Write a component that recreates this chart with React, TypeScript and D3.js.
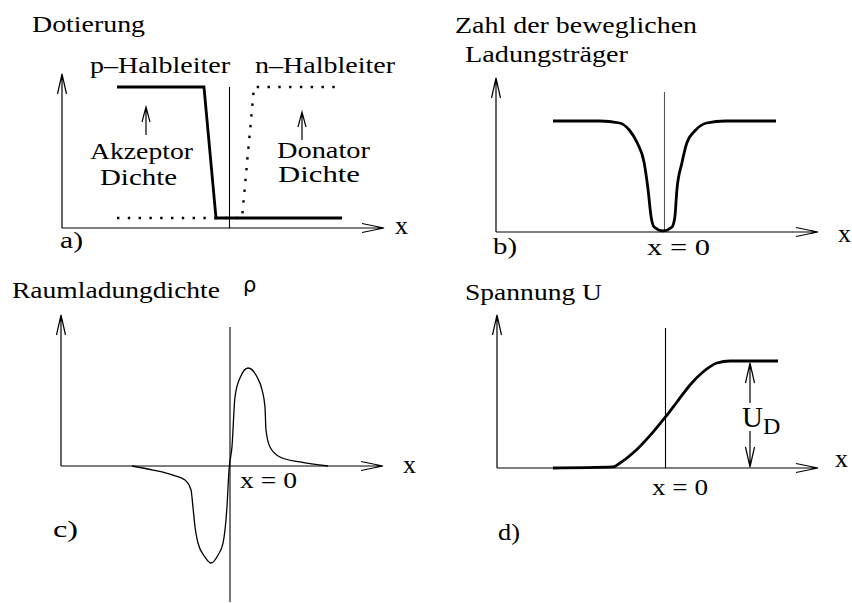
import React from "react";
import * as d3 from "d3";

const W = 852;
const H = 603;
const SERIF = "Liberation Serif, Times New Roman, Times, DejaVu Serif, serif";

// a) Dotierung: acceptor (solid) and donor (dotted) profiles, x in [-1, 1], y in [0, 1]
const acceptorX = [-1, -0.227, -0.12, 1];
const acceptorY = [1, 1, 0.071, 0.071];
const donorX = [-1, 0.111, 0.218, 0.982];
const donorY = [0.071, 0.071, 1, 1];

// b) Zahl der beweglichen Ladungsträger
const carrierX = [-1, -0.582, -0.404, -0.316, -0.244, -0.182, -0.147, -0.12, -0.093, -0.013, 0.067, 0.093, 0.111, 0.156, 0.2, 0.28, 0.378, 0.547, 1];
const carrierY = [1, 1, 0.982, 0.919, 0.802, 0.622, 0.378, 0.135, 0.045, 0.01, 0.045, 0.135, 0.378, 0.622, 0.802, 0.919, 0.982, 1, 1];

// c) Raumladungdichte rho, y in [-1, 1]
const chargeX = [-1, -0.786, -0.582, -0.459, -0.398, -0.378, -0.357, -0.327, -0.255, -0.194, -0.122, -0.071, -0.031, -0.01, 0.02, 0.051, 0.102, 0.184, 0.276, 0.327, 0.357, 0.367, 0.408, 0.51, 0.714, 1];
const chargeY = [0, -0.041, -0.092, -0.143, -0.245, -0.418, -0.622, -0.786, -0.929, -0.99, -0.908, -0.786, -0.418, -0.041, 0.194, 0.704, 0.898, 1, 0.908, 0.776, 0.602, 0.367, 0.194, 0.092, 0.041, 0];

// d) Spannung U
const voltageX = [-1, -0.467, -0.404, -0.289, -0.111, 0, 0.102, 0.218, 0.333, 0.458, 0.573, 1];
const voltageY = [0, 0.01, 0.047, 0.14, 0.336, 0.477, 0.617, 0.776, 0.897, 0.981, 1, 1];

type Frame = {
  left: number; axisY: number; top: number; right: number;
  x0: number; x1: number; yLo: number; yHi: number; yMin: number;
  zeroTop: number; zeroBottom: number;
};

const frames: Record<string, Frame> = {
  a: { left: 62, axisY: 228, top: 74, right: 384, x0: 117, x1: 342, yLo: 228, yHi: 87, yMin: 0, zeroTop: 87, zeroBottom: 228 },
  b: { left: 496, axisY: 232, top: 78, right: 818, x0: 553, x1: 776, yLo: 232, yHi: 121, yMin: 0, zeroTop: 92, zeroBottom: 232 },
  c: { left: 61, axisY: 466, top: 315, right: 383, x0: 132, x1: 328, yLo: 564, yHi: 368, yMin: -1, zeroTop: 327, zeroBottom: 602 },
  d: { left: 497, axisY: 468, top: 315, right: 818, x0: 553, x1: 778, yLo: 468, yHi: 361, yMin: 0, zeroTop: 328, zeroBottom: 468 },
};

const scalesFor = (f: Frame) => ({
  x: d3.scaleLinear().domain([-1, 1]).range([f.x0, f.x1]),
  y: d3.scaleLinear().domain([f.yMin, 1]).range([f.yLo, f.yHi]),
});

const arrowPath = (x1: number, y1: number, x2: number, y2: number, len = 20, half = 4.5) => {
  const dx = x2 - x1, dy = y2 - y1;
  const l = Math.hypot(dx, dy);
  const ux = dx / l, uy = dy / l;
  const bx = x2 - ux * len, by = y2 - uy * len;
  return `M${x1},${y1}L${x2},${y2}M${bx - uy * half},${by + ux * half}L${x2},${y2}L${bx + uy * half},${by - ux * half}`;
};

const Arrow = ({ x1, y1, x2, y2, len, half, w = 1.2, color = "#000" }: any) => (
  <path d={arrowPath(x1, y1, x2, y2, len, half)} fill="none" stroke={color} strokeWidth={w} />
);

const Label = ({ x, y, size = 24, width, children, family = SERIF }: any) => (
  <text x={x} y={y} fill="#000" style={{ fontFamily: family, fontSize: size }}
    textLength={width} lengthAdjust={width ? "spacingAndGlyphs" : undefined}>
    {children}
  </text>
);

const curve = (xs: number[], ys: number[], f: Frame, kind: any) => {
  const s = scalesFor(f);
  const pts = xs.map((x, i) => [x, ys[i]] as [number, number]);
  return d3.line<[number, number]>().x((d) => s.x(d[0])).y((d) => s.y(d[1])).curve(kind)(pts) || "";
};

const Axes = ({ f, zeroColor = "#000" }: { f: Frame; zeroColor?: string }) => {
  const s = scalesFor(f);
  const zx = s.x(0);
  return (
    <g>
      <Arrow x1={f.left} y1={f.axisY} x2={f.left} y2={f.top} />
      <Arrow x1={f.left} y1={f.axisY} x2={f.right} y2={f.axisY} len={22} />
      <line x1={zx} x2={zx} y1={f.zeroTop} y2={f.zeroBottom} stroke={zeroColor} strokeWidth={1.1} />
    </g>
  );
};

export default function App() {
  const { a, b, c, d } = frames;
  return (
    <svg width={W} height={H} style={{ position: "absolute", left: 0, top: 0, background: "#fff" }}>
      {/* a) */}
      <Label x={32} y={32} width={113}>Dotierung</Label>
      <Label x={90} y={73} width={140}>p–Halbleiter</Label>
      <Label x={255} y={73} width={140}>n–Halbleiter</Label>
      <Axes f={a} />
      <path d={curve(acceptorX, acceptorY, a, d3.curveLinear)} fill="none" stroke="#000" strokeWidth={2.8} />
      <path d={curve(donorX, donorY, a, d3.curveLinear)} fill="none" stroke="#000" strokeWidth={2.4} strokeDasharray="2.4 8.4" />
      <Arrow x1={146} y1={135} x2={146} y2={107} len={15} half={4} />
      <Arrow x1={302} y1={140} x2={302} y2={112} len={15} half={4} />
      <Label x={90} y={159} size={24} width={103}>Akzeptor</Label>
      <Label x={100} y={185} size={24} width={77}>Dichte</Label>
      <Label x={277} y={158} size={24} width={93}>Donator</Label>
      <Label x={278} y={182} size={24} width={82}>Dichte</Label>
      <Label x={395} y={234} size={26}>x</Label>
      <Label x={60} y={248} width={23}>a)</Label>

      {/* b) */}
      <Label x={455} y={33} width={242}>Zahl der beweglichen</Label>
      <Label x={465} y={62} width={163}>Ladungsträger</Label>
      <Axes f={b} zeroColor="#555" />
      <path d={curve(carrierX, carrierY, b, d3.curveMonotoneX)} fill="none" stroke="#000" strokeWidth={2.8} />
      <Label x={838} y={242} size={26}>x</Label>
      <Label x={493} y={254} width={24}>b)</Label>
      <Label x={647} y={255} width={63}>x = 0</Label>

      {/* c) */}
      <Label x={12} y={298} width={208}>Raumladungdichte</Label>
      <Label x={243} y={292} size={21} family="DejaVu Sans, Liberation Sans, sans-serif">ρ</Label>
      <Axes f={c} />
      <path d={curve(chargeX, chargeY, c, d3.curveMonotoneX)} fill="none" stroke="#000" strokeWidth={1.3} />
      <Label x={403} y={473} size={26}>x</Label>
      <Label x={240} y={488} width={57}>x = 0</Label>
      <Label x={53} y={537} width={25}>c)</Label>

      {/* d) */}
      <Label x={465} y={300} width={137}>Spannung U</Label>
      <Axes f={d} />
      <path d={curve(voltageX, voltageY, d, d3.curveMonotoneX)} fill="none" stroke="#000" strokeWidth={2.8} />
      <Arrow x1={750} y1={403} x2={750} y2={363} len={20} half={4.5} />
      <Arrow x1={750} y1={431} x2={750} y2={467} len={20} half={4.5} />
      <text x={742} y={427} fill="#000" style={{ fontFamily: SERIF, fontSize: 29 }}>
        U<tspan dy={7} style={{ fontSize: 24 }}>D</tspan>
      </text>
      <Label x={835} y={467} size={26}>x</Label>
      <Label x={652} y={495} width={56}>x = 0</Label>
      <Label x={498} y={540} width={22}>d)</Label>
    </svg>
  );
}
